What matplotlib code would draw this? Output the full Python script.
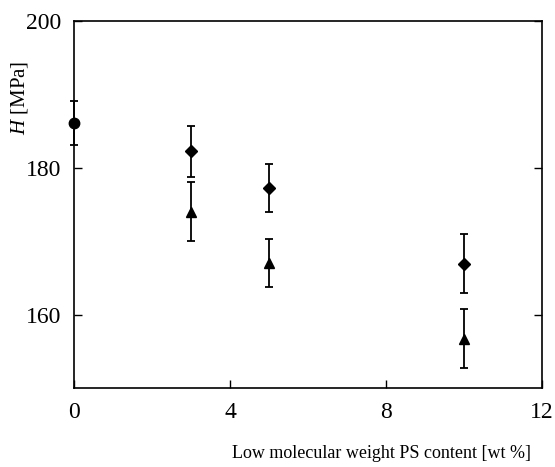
import matplotlib
matplotlib.use("Agg")
import matplotlib.pyplot as plt

# hardness vs low-MW PS content
x_circle = [0]
h_circle = [186.1]
err_circle = [3.0]

x_diamond = [3, 5, 10]
h_diamond = [182.2, 177.2, 166.9]
err_diamond = [3.5, 3.3, 4.0]

x_triangle = [3, 5, 10]
h_triangle = [174.0, 167.0, 156.7]
err_triangle = [4.0, 3.3, 4.0]

xticks = [0, 4, 8, 12]
yticks = [160, 180, 200]

plt.rcParams['font.family'] = ['Liberation Serif', 'DejaVu Serif']
plt.rcParams['mathtext.fontset'] = 'custom'
plt.rcParams['mathtext.it'] = 'Liberation Serif:italic'
plt.rcParams['mathtext.rm'] = 'Liberation Serif'

fig = plt.figure(figsize=(5.55, 4.67), dpi=100)
ax = fig.add_axes([0.1333, 0.1692, 0.8433, 0.7865])

kw = dict(color='black', ecolor='black', elinewidth=1.3, capsize=3.2, capthick=1.3,
          linestyle='none', clip_on=False)
ax.errorbar(x_circle, h_circle, yerr=err_circle, marker='o', markersize=7.5, **kw)
ax.errorbar(x_diamond, h_diamond, yerr=err_diamond, marker='D', markersize=6, **kw)
ax.errorbar(x_triangle, h_triangle, yerr=err_triangle, marker='^', markersize=7, **kw)

ax.set_xlim(0, 12)
ax.set_ylim(150, 200)
ax.set_xticks(xticks)
ax.set_yticks(yticks)
ax.tick_params(direction='in', length=6, width=1, labelsize=17, pad=9,
               right=True, top=False)
ax.tick_params(axis='x', pad=10)
for s in ax.spines.values():
    s.set_linewidth(1.2)

ax.set_xlabel('Low molecular weight PS content [wt %]', fontsize=13)
ax.xaxis.set_label_coords(0.656, -0.155)
ax.set_ylabel('$H$ [MPa]', fontsize=15)
ax.yaxis.set_label_coords(-0.095, 0.79)

fig.savefig('out.png', dpi=100)
